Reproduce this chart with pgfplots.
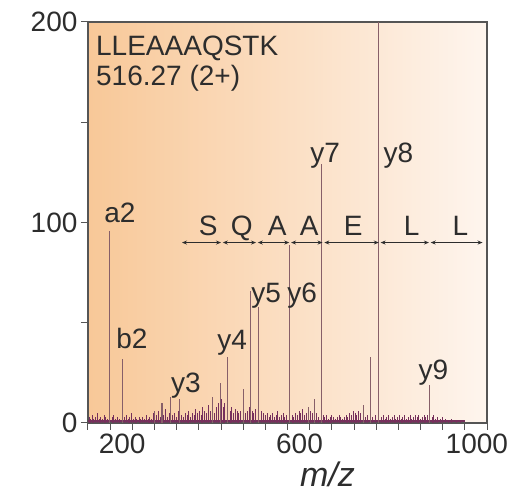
\documentclass[border=0pt]{standalone}
\usepackage{fontspec}
\setmainfont{Liberation Sans}
\usepackage{pgfplots}
\usepackage{pgfplotstable}
\pgfplotsset{compat=1.18}
\usetikzlibrary{arrows.meta}

\definecolor{peak}{RGB}{135,95,105}
\definecolor{noise}{RGB}{118,48,92}
\definecolor{axcol}{RGB}{85,85,85}
\definecolor{txt}{RGB}{45,45,45}
\definecolor{bgL}{RGB}{248,200,152}
\definecolor{bgM}{RGB}{252,225,198}
\definecolor{bgR}{RGB}{254,245,238}

\pgfplotstableread{
mz int
199 96
227 32
301 6
317 10
337 13
357 12
430 13
448 20
465 33
500 17
516 66
535 58
605 89
648 8
660 12
676 129
772 9
787 33
805 200
920 19
}\peaks

\pgfplotstableread{
mz int
152 3
156 2
160 4
163 2
167 3
171 5
175 2
178 3
182 2
186 4
190 3
194 2
204 3
208 4
212 2
216 3
221 2
232 3
236 4
240 2
244 3
248 5
252 2
256 3
260 2
265 3
269 2
273 3
277 2
281 4
285 2
289 3
293 2
297 5
305 4
309 6
313 3
321 4
325 7
329 3
333 5
341 4
345 5
349 3
353 6
361 4
365 3
369 5
373 4
377 6
381 3
385 5
389 4
393 7
397 5
401 6
405 4
409 8
413 6
417 5
421 9
425 6
435 5
439 8
443 10
451 12
455 8
458 10
470 6
474 8
478 5
482 7
486 6
490 5
494 6
505 5
509 6
513 8
520 6
524 5
528 7
542 6
546 5
550 4
554 5
558 3
562 4
566 5
570 3
574 4
578 6
582 3
586 4
590 5
594 3
598 4
610 4
614 3
618 5
622 4
626 6
630 5
634 7
638 4
642 5
652 6
656 5
666 5
670 3
680 4
684 3
688 4
692 2
696 3
700 4
704 3
708 2
712 3
716 4
720 3
724 2
728 3
732 4
736 3
740 5
744 4
748 6
752 5
756 4
760 6
764 5
776 3
780 4
792 3
798 4
812 3
816 4
820 2
824 3
828 4
832 2
836 3
840 4
844 2
848 3
852 4
856 2
860 3
864 4
868 2
872 3
876 4
880 2
884 3
888 4
892 3
896 4
900 2
904 3
908 4
912 3
916 4
926 3
930 4
934 2
938 3
944 2
950 3
956 2
962 1
970 2
980 1
990 1
}\noisetab

\begin{document}
\begin{tikzpicture}
\begin{axis}[name=ax,
  scale only axis, width=399pt, height=401pt,
  xmin=150, xmax=1050, ymin=0, ymax=200,
  xtick={200,600,1000}, minor xtick={150,200,...,1050},
  ytick={0,100,200}, minor ytick={50,150},
  tick align=outside, xtick pos=bottom, ytick pos=left,
  major tick length=7pt, minor tick length=7pt,
  axis line style={axcol, line width=1.2pt},
  tick style={axcol, line width=1pt},
  every tick label/.append style={font=\fontsize{28}{30}\selectfont, text=txt},
  /pgf/number format/assume math mode=true,
  /pgf/number format/1000 sep={},
  xticklabel style={xshift=12pt},
  axis background/.style={left color=bgL, middle color=bgM, right color=bgR},
  xlabel={\textit{m/z}},
  xlabel style={at={(axis description cs:0.6,0)}, anchor=base, yshift=-64pt, font=\fontsize{34}{36}\selectfont, text=txt},
]
\addplot[noise, line width=1.6pt] coordinates {(150,1) (1000,1)};
\addplot[ycomb, noise, line width=0.7pt, mark=none] table[x=mz, y=int] {\noisetab};
\addplot[ycomb, peak, line width=1.1pt, mark=none] table[x=mz, y=int] {\peaks};

\node[anchor=north west, align=left, inner sep=0pt, text=txt, font=\fontsize{28}{30}\selectfont] at (axis cs:168,193) {LLEAAAQSTK\\516.27 (2+)};

\begin{scope}[every node/.style={anchor=base, text=txt, font=\fontsize{28}{30}\selectfont, inner sep=0pt}]
\node at (axis cs:222,100) {a2};
\node at (axis cs:249,37) {b2};
\node at (axis cs:371,15) {y3};
\node at (axis cs:475,36.5) {y4};
\node at (axis cs:552,60) {y5};
\node at (axis cs:633,60) {y6};
\node at (axis cs:685,130) {y7};
\node at (axis cs:850,130) {y8};
\node at (axis cs:929,21.5) {y9};
\node at (axis cs:421,93.5) {S};
\node at (axis cs:497,93.5) {Q};
\node at (axis cs:577,93.5) {A};
\node at (axis cs:649,93.5) {A};
\node at (axis cs:748,93.5) {E};
\node at (axis cs:880,93.5) {L};
\node at (axis cs:990,93.5) {L};
\end{scope}

\begin{scope}[line width=0.9pt, draw=txt, {Stealth[length=5pt,width=4pt]}-{Stealth[length=5pt,width=4pt]}]
\draw (axis cs:362,90) -- (axis cs:450,90);
\draw (axis cs:454,90) -- (axis cs:529,90);
\draw (axis cs:533,90) -- (axis cs:604,90);
\draw (axis cs:608,90) -- (axis cs:679,90);
\draw (axis cs:683,90) -- (axis cs:806,90);
\draw (axis cs:810,90) -- (axis cs:919,90);
\draw (axis cs:923,90) -- (axis cs:1040,90);
\end{scope}
\end{axis}
\pgfresetboundingbox
\path[use as bounding box] ([xshift=-88pt,yshift=-73pt]ax.south west) rectangle ([xshift=40pt,yshift=22pt]ax.north east);
\end{tikzpicture}
\end{document}
